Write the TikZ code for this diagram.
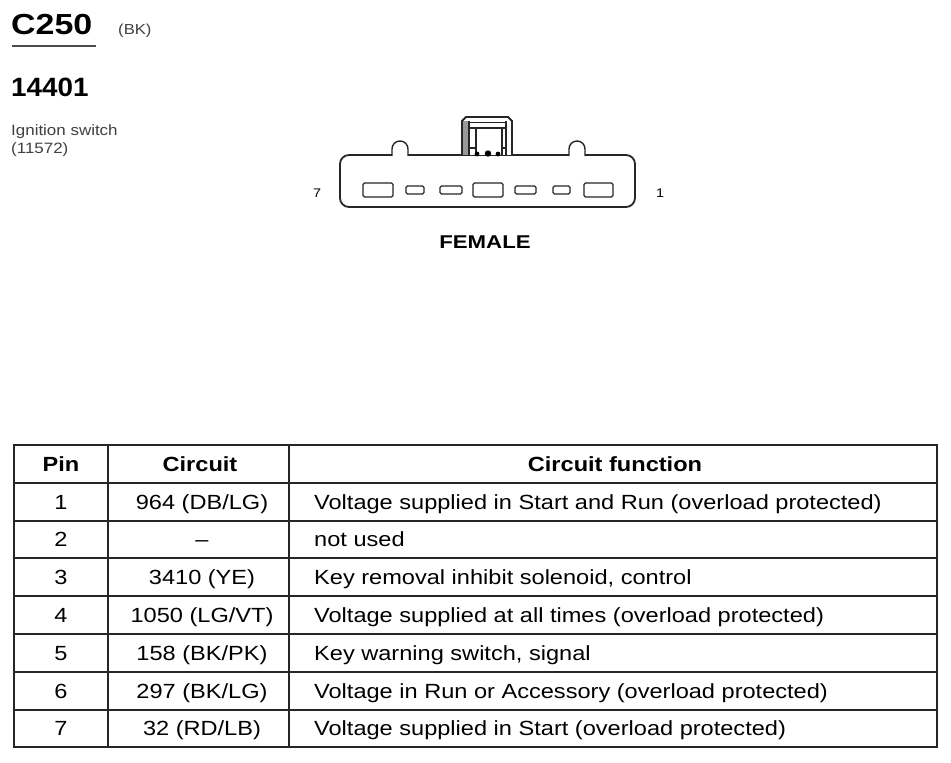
\documentclass[tikz,border=0pt]{standalone}
\usepackage{fontspec}
\setmainfont{Liberation Sans}
\newcommand\hs[2][1.15]{\scalebox{#1}[1]{#2}}
\begin{document}
\begin{tikzpicture}[x=1pt,y=-1pt,
  ln/.style={line width=1.8pt,black!85},
  thin/.style={line width=1.4pt,black!85},
  hair/.style={line width=1.4pt,black!85},
  cell/.style={inner sep=0pt,anchor=base,font=\fontsize{20.5}{24}\selectfont},
  lcell/.style={cell,anchor=base west},
  hcell/.style={inner sep=0pt,anchor=base,font=\fontsize{20.5}{24}\selectfont\bfseries},
  pinbox/.style={thin,rounded corners=1.5pt}]
\useasboundingbox[fill=white] (0,0) rectangle (951,763);
% header
\node[anchor=base west,inner sep=0pt,font=\fontsize{29}{34}\selectfont\bfseries] (title) at (11,34) {\hs[1.17]{C250}};
\draw[line width=1.3pt,black!70] (12,46) -- (96,46);
\node[anchor=base west,inner sep=0pt,font=\fontsize{14.5}{17}\selectfont,black!75] (bk) at (118,34.5) {\hs{(BK)}};
\node[anchor=base west,inner sep=0pt,font=\fontsize{26.5}{30}\selectfont\bfseries] (num) at (11,96) {\hs[1.05]{14401}};
\node[anchor=base west,inner sep=0pt,font=\fontsize{15}{18}\selectfont,black!75] (desc) at (11,135.5) {\hs[1.13]{Ignition switch}};
\node[anchor=base west,inner sep=0pt,font=\fontsize{15}{18}\selectfont,black!75] (desc2) at (11,153) {\hs[1.13]{(11572)}};
% connector
\draw[ln,rounded corners=9pt] (340,155) rectangle (635,207);
\draw[thin,fill=white] (392,156) -- (392,149) arc[start angle=180,end angle=360,radius=8] -- (408,156);
\draw[thin,fill=white] (569,156) -- (569,149) arc[start angle=180,end angle=360,radius=8] -- (585,156);
% latch
\fill[white] (462,117) rectangle (512,155);
\fill[black!40] (462,121) rectangle (469,155);
\draw[ln] (462,155) -- (462,121) -- (466,117) -- (508,117) -- (512,121) -- (512,155);
\draw[hair] (469,155) -- (469,121);
\draw[hair] (506,155) -- (506,121);
\draw[hair] (469,122.5) -- (506,122.5);
\draw[hair] (469,128) -- (506,128);
\draw[hair] (476,155) -- (476,128);
\draw[hair] (502,155) -- (502,128);
\draw[hair] (469,148) -- (476,148);
\draw[hair] (502,148) -- (506,148);
\fill (477,154) circle (2.4);
\fill (488,153.5) circle (3.2);
\fill (498,154) circle (2.4);
% cavities
\draw[pinbox] (363,183) rectangle (393,197);
\draw[pinbox] (406,186) rectangle (424,194);
\draw[pinbox] (440,186) rectangle (462,194);
\draw[pinbox] (473,183) rectangle (503,197);
\draw[pinbox] (515,186) rectangle (536,194);
\draw[pinbox] (553,186) rectangle (570,194);
\draw[pinbox] (584,183) rectangle (613,197);
\node[inner sep=0pt,font=\fontsize{12.5}{14}\selectfont] (p7) at (317,193.5) {\hs{7}};
\node[inner sep=0pt,font=\fontsize{12.5}{14}\selectfont] (p1) at (660,193.5) {\hs{1}};
\node[inner sep=0pt,font=\fontsize{18.5}{22}\selectfont\bfseries] (fem) at (485,242) {\hs[1.2]{FEMALE}};
% table
\draw[ln] (14,445) rectangle (937,747);
\foreach \yy in {483,521,558,596,634,672,710} \draw[ln] (14,\yy) -- (937,\yy);
\draw[ln] (108,445) -- (108,747);
\draw[ln] (289,445) -- (289,747);
\node[hcell] (h1) at (61,471) {\hs{Pin}};
\node[hcell] (h2) at (200,471) {\hs{Circuit}};
\node[hcell] (h3) at (615,471) {\hs{Circuit function}};
% rows
\node[cell] (pin1) at (61,509) {\hs{1}};
\node[cell] (cir1) at (202,509) {\hs{964 (DB/LG)}};
\node[lcell] (fun1) at (314,509) {\hs{Voltage supplied in Start and Run (overload protected)}};
\node[cell] (pin2) at (61,546.5) {\hs{2}};
\node[cell] (cir2) at (202,546.5) {\hs{--}};
\node[lcell] (fun2) at (314,546.5) {\hs{not used}};
\node[cell] (pin3) at (61,584) {\hs{3}};
\node[cell] (cir3) at (202,584) {\hs{3410 (YE)}};
\node[lcell] (fun3) at (314,584) {\hs{Key removal inhibit solenoid, control}};
\node[cell] (pin4) at (61,622) {\hs{4}};
\node[cell] (cir4) at (202,622) {\hs{1050 (LG/VT)}};
\node[lcell] (fun4) at (314,622) {\hs{Voltage supplied at all times (overload protected)}};
\node[cell] (pin5) at (61,660) {\hs{5}};
\node[cell] (cir5) at (202,660) {\hs{158 (BK/PK)}};
\node[lcell] (fun5) at (314,660) {\hs{Key warning switch, signal}};
\node[cell] (pin6) at (61,698) {\hs{6}};
\node[cell] (cir6) at (202,698) {\hs{297 (BK/LG)}};
\node[lcell] (fun6) at (314,698) {\hs{Voltage in Run or Accessory (overload protected)}};
\node[cell] (pin7) at (61,735.5) {\hs{7}};
\node[cell] (cir7) at (202,735.5) {\hs{32 (RD/LB)}};
\node[lcell] (fun7) at (314,735.5) {\hs{Voltage supplied in Start (overload protected)}};
\end{tikzpicture}
\end{document}
